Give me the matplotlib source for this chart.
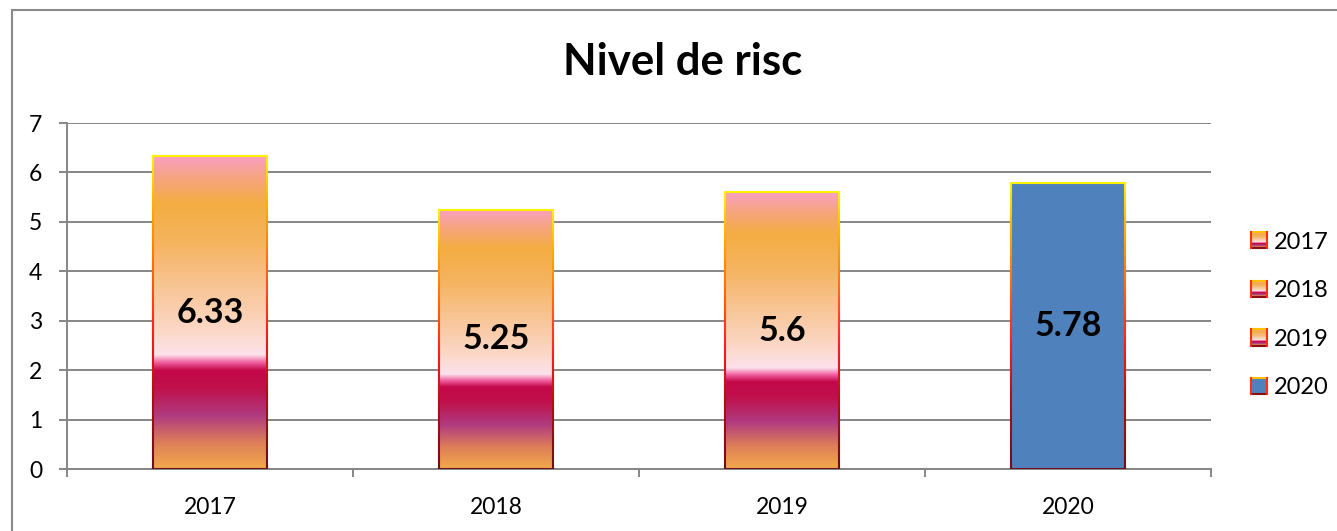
import numpy as np
import matplotlib
matplotlib.use("Agg")
import matplotlib.pyplot as plt
from matplotlib.colors import LinearSegmentedColormap
from matplotlib.collections import LineCollection
from matplotlib.patches import Rectangle, Patch
from matplotlib.lines import Line2D
from matplotlib.legend_handler import HandlerBase

# ---- data ----
years = ['2017', '2018', '2019', '2020']
values = [6.33, 5.25, 5.6, 5.78]
title = 'Nivel de risc'
y_ticks = [0, 1, 2, 3, 4, 5, 6, 7]

plt.rcParams['font.family'] = ['Lato', 'DejaVu Sans']

GRID = '#868686'
BLUE = '#4f81bd'

bar_cmap = LinearSegmentedColormap.from_list('fire', [
    (0.00, '#f3a94b'),
    (0.08, '#de8058'),
    (0.17, '#b03a80'),
    (0.26, '#c0104a'),
    (0.315, '#c4084a'),
    (0.34, '#f060a0'),
    (0.365, '#fde2ec'),
    (0.44, '#fcd8c8'),
    (0.58, '#f8c596'),
    (0.72, '#f5b460'),
    (0.85, '#f4ad42'),
    (0.93, '#f6a47e'),
    (1.00, '#f9a0c2'),
])
edge_cmap = LinearSegmentedColormap.from_list('edge', [
    (0.00, '#6b0f1a'),
    (0.25, '#b01010'),
    (0.45, '#ff2020'),
    (0.65, '#ff6a10'),
    (0.85, '#ffb000'),
    (1.00, '#fff000'),
])

W, H = 1337, 531
fig = plt.figure(figsize=(W / 100, H / 100), dpi=100)
ax = fig.add_axes([67 / W, 1 - 469 / H, (1211 - 67) / W, (469 - 123) / H])

x = np.arange(len(years))
bars = ax.bar(x, values, 0.4, color='none', edgecolor='none', zorder=3)

grad = np.linspace(0, 1, 512).reshape(-1, 1)
for i, b in enumerate(bars):
    x0 = b.get_x()
    x1 = x0 + b.get_width()
    h = b.get_height()
    if i < 3:
        ax.imshow(grad, cmap=bar_cmap, extent=[x0, x1, 0, h], origin='lower',
                  aspect='auto', zorder=3, interpolation='bilinear')
    else:
        ax.add_patch(Rectangle((x0, 0), x1 - x0, h, facecolor=BLUE,
                               edgecolor='none', zorder=3))
    ys = np.linspace(0, h, 80)
    for xe in (x0, x1):
        segs = [[(xe, ys[k]), (xe, ys[k + 1])] for k in range(len(ys) - 1)]
        cols = edge_cmap((ys[:-1] + ys[1:]) / 2 / h)
        ax.add_collection(LineCollection(segs, colors=cols, linewidths=1.5, zorder=4))
    ax.plot([x0, x1], [h, h], color=edge_cmap(1.0), lw=1.5, zorder=4, solid_capstyle='projecting')
    ax.plot([x0, x1], [0, 0], color=edge_cmap(0.0), lw=1.5, zorder=4)
    ax.text((x0 + x1) / 2, h / 2, f'{values[i]:g}', ha='center', va='center',
            fontsize=24.5, fontweight='bold', color='black', zorder=5)

ax.set_xlim(-0.5, len(years) - 0.5)
ax.set_ylim(0, 7)
ax.set_yticks(y_ticks)
ax.set_xticks(x)
ax.set_xticklabels(years)
ax.set_xticks(np.arange(-0.5, len(years)), minor=True)
ax.tick_params(axis='x', which='major', length=0, pad=20, labelsize=16.5)
ax.tick_params(axis='x', which='minor', length=6, width=1.4, color=GRID, direction='out')
ax.tick_params(axis='y', length=6, width=1.4, color=GRID, direction='out', pad=12, labelsize=16.5)
ax.yaxis.grid(True, color=GRID, lw=1.4)
ax.set_axisbelow(True)
for s in ('top', 'right'):
    ax.spines[s].set_visible(False)
for s in ('left', 'bottom'):
    ax.spines[s].set_color(GRID)
    ax.spines[s].set_linewidth(1.4)

fig.text(683 / W, 1 - 62 / H, title, ha='center', va='center', fontsize=31.5,
         fontweight='bold')

# outer chart border
fig.add_artist(Rectangle((12 / W, -1), 2, 2 - 10 / H, transform=fig.transFigure,
                         facecolor='none', edgecolor='#898989', lw=1.5))


class GradHandler(HandlerBase):
    def __init__(self, solid=None):
        super().__init__()
        self.solid = solid

    def create_artists(self, legend, orig_handle, xdescent, ydescent, width, height,
                       fontsize, trans):
        arts = []
        x0, y0 = -xdescent, -ydescent
        if self.solid is None:
            n = 16
            for k in range(n):
                arts.append(Rectangle((x0, y0 + k * height / n), width, height / n,
                                      facecolor=bar_cmap((k + 0.5) / n), edgecolor='none',
                                      transform=trans))
        else:
            arts.append(Rectangle((x0, y0), width, height, facecolor=self.solid,
                                  edgecolor='none', transform=trans))
        arts.append(Line2D([x0, x0 + width], [y0 + height] * 2, color='#ffc000', lw=1.5, transform=trans))
        arts.append(Line2D([x0, x0 + width], [y0] * 2, color='#8b1010', lw=1.5, transform=trans))
        arts.append(Line2D([x0, x0], [y0, y0 + height], color='#ff3010', lw=1.5, transform=trans))
        arts.append(Line2D([x0 + width] * 2, [y0, y0 + height], color='#ff3010', lw=1.5, transform=trans))
        return arts


handles = [Patch(label=y) for y in years]
hmap = {h: GradHandler() for h in handles[:3]}
hmap[handles[3]] = GradHandler(solid=BLUE)
fig.legend(handles=handles, labels=years, handler_map=hmap, loc='center left',
           bbox_to_anchor=(1251 / W, 1 - 315 / H), frameon=False, fontsize=17,
           handlelength=0.68, handleheight=0.68, handletextpad=0.28, labelspacing=1.17,
           borderpad=0, borderaxespad=0)

fig.savefig('out.png', dpi=100)
